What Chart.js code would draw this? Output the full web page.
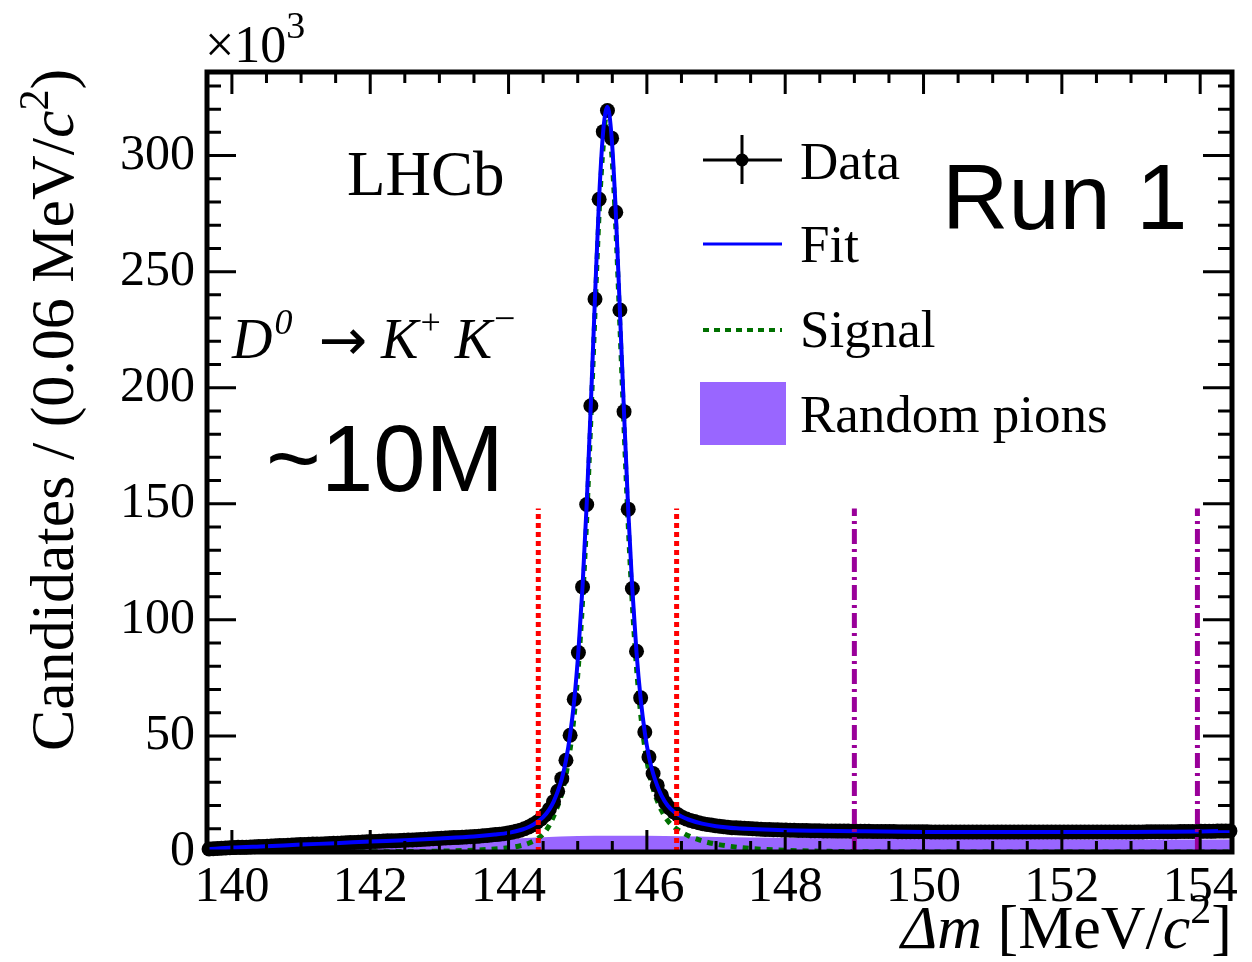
<!DOCTYPE html>
<html>
<head>
<meta charset="utf-8">
<script src="https://cdn.jsdelivr.net/npm/chart.js@4.4.1/dist/chart.umd.min.js"></script>
<style>
  html, body { margin: 0; padding: 0; background: #fff; }
  #wrap { width: 1252px; height: 962px; position: relative; }
</style>
</head>
<body>
<div id="wrap"><canvas id="grafico"></canvas></div>
<script>
// Delta m spectrum, D0 -> K+ K-, Run 1 (values in units of 10^3 candidates)

const X_MIN = 139.64, X_MAX = 154.46;
const Y_MIN = 0, Y_MAX = 336;
const X_TICK_LABELS = [140, 142, 144, 146, 148, 150, 152, 154];
const Y_TICK_LABELS = [0, 50, 100, 150, 200, 250, 300];

// data histogram: first bin centre and bin width (0.06 MeV/c2)
const BIN_FIRST = 139.67;
const BIN_WIDTH = 0.06;
const DATA_Y = [
  1.3,1.4,1.5,1.6,1.7,1.8,1.9,2.0,2.0,2.1,
  2.2,2.3,2.4,2.4,2.5,2.6,2.7,2.8,2.8,2.9,
  3.0,3.1,3.2,3.2,3.3,3.4,3.5,3.5,3.6,3.7,
  3.8,3.8,3.9,4.0,4.1,4.1,4.2,4.3,4.4,4.5,
  4.5,4.6,4.7,4.8,4.8,4.9,5.0,5.1,5.2,5.2,
  5.3,5.4,5.5,5.6,5.7,5.8,5.9,6.0,6.1,6.2,
  6.3,6.4,6.5,6.6,6.7,6.8,7.0,7.1,7.3,7.5,
  7.7,7.9,8.2,8.5,8.9,9.4,10.0,10.8,11.7,
  12.8,14.2,16.0,18.4,21.6,26.2,31.6,39.5,50.3,65.8,
  85.9,114.2,149.7,192.2,238.2,281.2,310.3,319.4,307.5,275.6,
  233.5,189.7,147.7,113.5,86.5,66.4,51.7,40.9,33.8,28.7,
  24.4,21.2,19.0,17.3,16.0,15.0,14.2,13.6,13.1,12.6,
  12.2,11.9,11.6,11.3,11.1,10.9,10.7,10.5,10.4,10.3,
  10.2,10.1,10.0,9.9,9.8,9.7,9.7,9.6,9.6,9.5,
  9.5,9.4,
  9.4,9.3,9.3,9.3,9.2,9.2,9.2,9.1,9.1,9.1,
  9.0,9.0,9.0,9.0,8.9,8.9,8.9,8.9,8.9,8.8,
  8.8,8.8,8.8,8.8,8.8,8.7,8.7,8.7,8.7,8.7,
  8.7,8.7,8.7,8.6,8.6,8.6,8.6,8.6,8.6,8.6,
  8.6,8.6,8.6,8.6,8.6,8.6,8.6,8.6,8.6,8.6,
  8.6,8.6,8.6,8.6,8.6,8.6,8.6,8.6,8.6,8.6,
  8.6,8.6,8.6,8.6,8.6,8.6,8.6,8.6,8.6,8.6,
  8.6,8.6,8.6,8.6,8.6,8.6,8.6,8.6,8.6,8.6,
  8.6,8.6,8.6,8.6,8.6,8.7,8.7,8.7,8.7,8.7,
  8.7,8.7,8.7,8.8,8.8,8.8,8.8,8.8,8.9,8.9,
  8.9,8.9,9.0,9.0,9.0,9.1
];

// total fit (blue)
const FIT_X = [139.64,140.0,140.5,141.0,141.5,142.0,142.5,143.0,143.5,143.8,144.0,144.2,144.3,144.4,144.5,
  144.59,144.65,144.71,144.77,144.83,144.89,144.95,145.01,145.07,145.13,145.19,145.25,145.31,145.37,145.43,
  145.49,145.55,145.61,145.67,145.73,145.79,145.85,145.91,145.97,146.03,146.09,146.15,146.21,146.3,146.4,
  146.5,146.6,146.8,147.0,147.3,147.6,148.0,148.5,149.0,150.0,151.0,152.0,153.0,153.5,154.0,154.46];
const FIT_Y = [1.2,1.9,2.5,3.2,3.8,4.5,5.1,5.85,6.7,7.5,8.25,9.7,10.9,12.6,15.0,
  18.4,21.6,26.0,31.6,39.5,50.5,65.5,86.5,114.5,150,193,239,282,311,321,
  308,276,233,189,147.5,113,86,66,51.5,41,33.8,28.6,24.4,20.0,17.1,
  15.3,14.0,12.2,11.1,10.2,9.8,9.4,9.15,8.95,8.65,8.6,8.6,8.6,8.7,8.85,9.1];

// signal component (green dotted)
const SIG_X = [141.5,142.0,142.5,143.0,143.5,143.8,144.0,144.2,144.3,144.4,144.5,
  144.59,144.65,144.71,144.77,144.83,144.89,144.95,145.01,145.07,145.13,145.19,145.25,145.31,145.37,145.43,
  145.49,145.55,145.61,145.67,145.73,145.79,145.85,145.91,145.97,146.03,146.09,146.15,146.21,146.3,146.4,
  146.5,146.6,146.8,147.0,147.3,147.6,148.0,148.5,149.0,150.0,154.46];
const SIG_Y = [0.0,0.1,0.2,0.35,0.8,1.3,1.8,2.9,3.9,5.4,7.7,
  11.5,15.3,19.8,25.3,33.2,44.2,59.2,80,108,143.5,186.5,232.5,275.5,304.5,314.5,
  301.5,269.5,226.5,182.5,141,106.5,79.5,59.5,45,34.5,27.3,22.1,18.0,13.6,10.6,
  8.6,7.0,4.8,3.4,2.1,1.3,0.7,0.35,0.15,0.0,0.0];

// random pions background (violet fill)
const PION_X = [139.64,140,140.5,141,141.5,142,142.5,143,143.5,144,144.5,145,145.5,146,146.5,147,148,149,150,151,152,153,154,154.46];
const PION_Y = [0.2,0.5,0.9,1.3,1.8,2.4,3.0,3.7,4.6,5.6,6.4,6.9,7.0,7.0,6.8,6.5,6.1,5.9,5.7,5.6,5.5,5.4,5.4,5.4];

// signal window (red) and sideband (violet) boundaries
const SIGNAL_WINDOW = [144.43, 146.43];
const SIDEBAND = [149.0, 153.96];
const LINE_TOP = 148;

const SERIF = "'Liberation Serif', 'Times New Roman', serif";
const SANS = "'Liberation Sans', Arial, sans-serif";

const pts = (xs, ys) => xs.map((x, i) => ({ x: x, y: ys[i] }));
const dataPts = DATA_Y.map((v, i) => ({ x: +(BIN_FIRST + i * BIN_WIDTH).toFixed(2), y: v }));
const vline = (x) => [{ x: x, y: 0 }, { x: x, y: LINE_TOP }];

const datasets = [];
SIGNAL_WINDOW.forEach(x => datasets.push({
  label: "window", data: vline(x), borderColor: "#ff0000", borderWidth: 5,
  borderDash: [5, 4], pointRadius: 0, order: 1
}));
SIDEBAND.forEach(x => datasets.push({
  label: "sideband", data: vline(x), borderColor: "#990099", borderWidth: 5,
  borderDash: [15, 5, 3, 5], pointRadius: 0, order: 1
}));
datasets.push({
  label: "Fit", data: pts(FIT_X, FIT_Y), borderColor: "#0000ff", borderWidth: 4,
  pointRadius: 0, cubicInterpolationMode: "monotone", order: 2
});
datasets.push({
  label: "Data", data: dataPts, showLine: false, pointRadius: 7.5,
  pointBackgroundColor: "#000", pointBorderWidth: 0, borderColor: "#000", clip: false, order: 3
});
datasets.push({
  label: "Signal", data: pts(SIG_X, SIG_Y), borderColor: "#007000", borderWidth: 5,
  borderDash: [6, 6], pointRadius: 0, cubicInterpolationMode: "monotone", order: 4
});
datasets.push({
  label: "Random pions", data: pts(PION_X, PION_Y), borderWidth: 0, borderColor: "rgba(0,0,0,0)",
  backgroundColor: "#9966ff", fill: "origin", pointRadius: 0,
  cubicInterpolationMode: "monotone", order: 5
});

// draw a run of text pieces with different styles
function drawRich(ctx, x, y, parts) {
  let cx = x;
  parts.forEach(p => {
    ctx.font = p.font;
    ctx.fillText(p.t, cx, y - (p.up || 0));
    cx += ctx.measureText(p.t).width + (p.gap || 0);
  });
}
function richWidth(ctx, parts) {
  let w = 0;
  parts.forEach(p => { ctx.font = p.font; w += ctx.measureText(p.t).width + (p.gap || 0); });
  return w;
}

const decorations = {
  id: "decorations",
  afterDraw(chart) {
    const ctx = chart.ctx;
    const a = chart.chartArea;
    const xs = chart.scales.x, ys = chart.scales.y;
    ctx.save();

    // ROOT-style inner ticks on all four sides
    ctx.strokeStyle = "#000";
    ctx.lineWidth = 3;
    ctx.beginPath();
    for (let i = 0; i <= 28; i++) {
      const px = xs.getPixelForValue(140 + i * 0.5);
      const len = i % 4 === 0 ? 22 : 11;
      ctx.moveTo(px, a.bottom); ctx.lineTo(px, a.bottom - len);
      ctx.moveTo(px, a.top); ctx.lineTo(px, a.top + len);
    }
    for (let i = 0; i <= 33; i++) {
      const py = ys.getPixelForValue(i * 10);
      const len = i % 5 === 0 ? 29 : 14;
      ctx.moveTo(a.left, py); ctx.lineTo(a.left + len, py);
      ctx.moveTo(a.right, py); ctx.lineTo(a.right - len, py);
    }
    ctx.stroke();
    ctx.lineWidth = 5;
    ctx.strokeRect(a.left, a.top, a.right - a.left, a.bottom - a.top);

    ctx.fillStyle = "#000";
    ctx.textAlign = "left";
    ctx.textBaseline = "alphabetic";

    // x10^3
    drawRich(ctx, 205, 62, [
      { t: "\u00d710", font: "52px " + SERIF },
      { t: "3", font: "38px " + SERIF, up: 24 }
    ]);

    // axis titles
    const xt = [
      { t: "\u0394m", font: "italic 62px " + SERIF },
      { t: " [MeV/", font: "62px " + SERIF },
      { t: "c", font: "italic 62px " + SERIF },
      { t: "2", font: "42px " + SERIF, up: 25 },
      { t: "]", font: "62px " + SERIF }
    ];
    drawRich(ctx, 1232 - richWidth(ctx, xt), 948, xt);

    const yt = [
      { t: "Candidates / (0.06 MeV/", font: "62px " + SERIF },
      { t: "c", font: "italic 62px " + SERIF },
      { t: "2", font: "42px " + SERIF, up: 25 },
      { t: ")", font: "62px " + SERIF }
    ];
    const yw = richWidth(ctx, yt);
    ctx.save();
    ctx.translate(73, 410 + yw / 2);
    ctx.rotate(-Math.PI / 2);
    drawRich(ctx, 0, 0, yt);
    ctx.restore();

    // labels inside the frame
    drawRich(ctx, 347, 195, [{ t: "LHCb", font: "63px " + SERIF }]);
    drawRich(ctx, 232, 358, [
      { t: "D", font: "italic 56px " + SERIF, gap: 2 },
      { t: "0", font: "italic 36px " + SERIF, up: 24, gap: 26 },
      { t: "\u2192", font: "58px 'DejaVu Sans', sans-serif", up: -2, gap: 14 },
      { t: "K", font: "italic 56px " + SERIF, gap: 2 },
      { t: "+", font: "36px " + SERIF, up: 24, gap: 14 },
      { t: "K", font: "italic 56px " + SERIF, gap: 2 },
      { t: "\u2212", font: "38px " + SERIF, up: 27 }
    ]);
    drawRich(ctx, 266, 491, [{ t: "~10M", font: "94px " + SANS }]);
    drawRich(ctx, 942, 229, [{ t: "Run 1", font: "92px " + SANS }]);

    // legend
    const lx0 = 703, lx1 = 782, tx = 800;
    ctx.strokeStyle = "#000"; ctx.lineWidth = 3;
    ctx.beginPath();
    ctx.moveTo(lx0, 160); ctx.lineTo(lx1, 160);
    ctx.moveTo(742, 135); ctx.lineTo(742, 184);
    ctx.stroke();
    ctx.beginPath(); ctx.arc(742, 160, 6.5, 0, 2 * Math.PI); ctx.fill();
    drawRich(ctx, tx, 179, [{ t: "Data", font: "53px " + SERIF }]);

    ctx.strokeStyle = "#0000ff"; ctx.lineWidth = 3;
    ctx.beginPath(); ctx.moveTo(lx0, 244); ctx.lineTo(lx1, 244); ctx.stroke();
    drawRich(ctx, tx, 262, [{ t: "Fit", font: "53px " + SERIF }]);

    ctx.strokeStyle = "#007000"; ctx.lineWidth = 4; ctx.setLineDash([6, 5]);
    ctx.beginPath(); ctx.moveTo(lx0, 330); ctx.lineTo(lx1, 330); ctx.stroke();
    ctx.setLineDash([]);
    drawRich(ctx, tx, 347, [{ t: "Signal", font: "53px " + SERIF }]);

    ctx.fillStyle = "#9966ff";
    ctx.fillRect(700, 382, 86, 63);
    ctx.fillStyle = "#000";
    drawRich(ctx, tx, 432, [{ t: "Random pions", font: "53px " + SERIF }]);

    ctx.restore();
  }
};

const ctx = document.getElementById("grafico").getContext("2d");
const chart = new Chart(ctx, {
  type: "line",
  data: { datasets: datasets },
  plugins: [decorations],
  options: {
    responsive: true,
    maintainAspectRatio: false,
    animation: false,
    devicePixelRatio: 1,
    layout: { padding: { left: 0, right: 20, top: 72, bottom: 0 } },
    plugins: { legend: { display: false }, tooltip: { enabled: false } },
    elements: { line: { tension: 0 } },
    scales: {
      x: {
        type: "linear", min: X_MIN, max: X_MAX,
        grid: { display: false, drawTicks: false },
        border: { display: false },
        afterBuildTicks: (s) => { s.ticks = X_TICK_LABELS.map(v => ({ value: v })); },
        afterFit: (s) => { s.height = 110; },
        ticks: { color: "#000", padding: 6, maxRotation: 0, autoSkip: false,
          font: { family: SERIF, size: 50 } }
      },
      y: {
        type: "linear", min: Y_MIN, max: Y_MAX,
        grid: { display: false, drawTicks: false },
        border: { display: false },
        afterBuildTicks: (s) => { s.ticks = Y_TICK_LABELS.map(v => ({ value: v })); },
        afterFit: (s) => { s.width = 207; },
        ticks: { color: "#000", padding: 12, autoSkip: false,
          font: { family: SERIF, size: 50 } }
      }
    }
  }
});
</script>
</body>
</html>
